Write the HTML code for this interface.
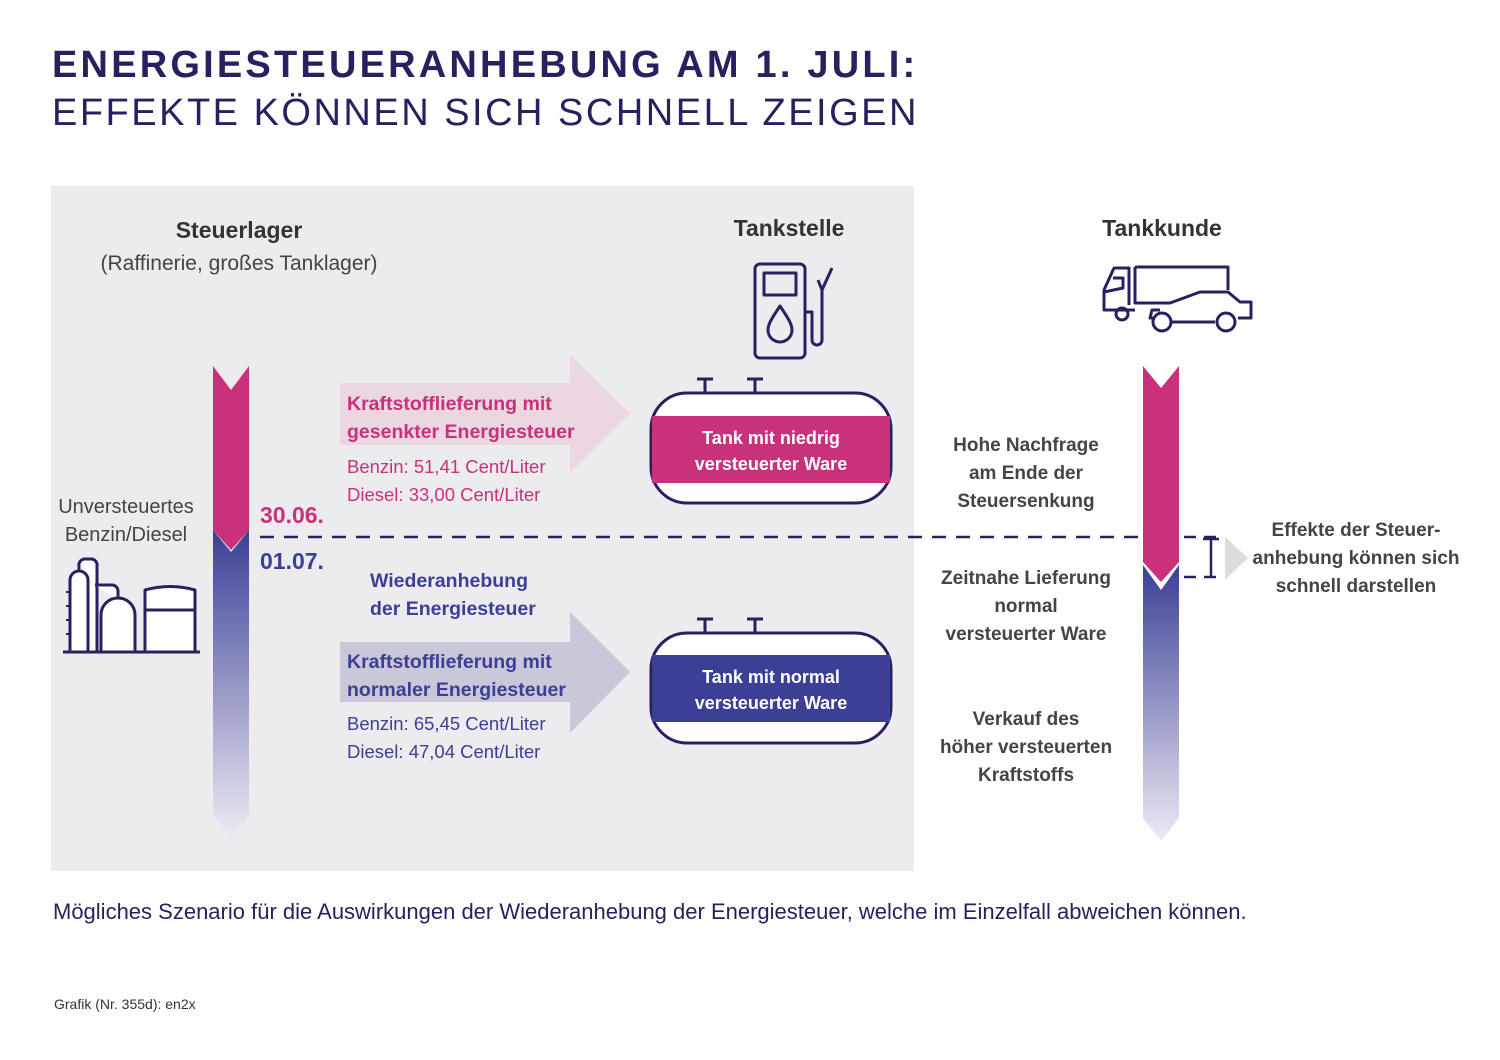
<!DOCTYPE html>
<html><head><meta charset="utf-8"><style>
body{margin:0;width:1500px;height:1060px;background:#fff;font-family:"Liberation Sans",sans-serif;position:relative;overflow:hidden}
.t{position:absolute;white-space:nowrap}
.c{text-align:center;transform:translateX(-50%)}
.b{font-weight:bold}
</style></head><body>
<div class="t b" style="left:52px;top:44px;font-size:38px;letter-spacing:3.2px;color:#2a2060">ENERGIESTEUERANHEBUNG AM 1. JULI:</div>
<div class="t" style="left:52px;top:92px;font-size:38px;letter-spacing:2.5px;color:#2a2060">EFFEKTE KÖNNEN SICH SCHNELL ZEIGEN</div>
<div style="position:absolute;left:51px;top:186px;width:863px;height:685px;background:#ececef"></div>
<svg width="1500" height="1060" style="position:absolute;left:0;top:0">
<defs>
<linearGradient id="gb" x1="0" y1="0" x2="0" y2="1"><stop offset="0" stop-color="#3b3f96"/><stop offset="1" stop-color="#ecebf3"/></linearGradient>
</defs>
<polygon points="213,366 231,390 249,366 249,530 231,550 213,530" fill="#c9317a"/>
<polygon points="213,530 231,552 249,530 249,815 231,838 213,815" fill="url(#gb)"/>
<polygon points="1143,366 1161,388 1179,366 1179,562 1161,582 1143,562" fill="#c9317a"/>
<polygon points="1143,565 1161,590 1179,565 1179,818 1161,841 1143,818" fill="url(#gb)"/>
<line x1="260" y1="537" x2="1140" y2="537" stroke="#2a2060" stroke-width="2.5" stroke-dasharray="14,10"/>
<line x1="1184" y1="537" x2="1220" y2="537" stroke="#2a2060" stroke-width="2.5" stroke-dasharray="12,8"/>
<line x1="1184" y1="577" x2="1220" y2="577" stroke="#2a2060" stroke-width="2.5" stroke-dasharray="12,8"/>
<line x1="1211" y1="539" x2="1211" y2="577" stroke="#2a2060" stroke-width="2.5"/>
<line x1="1203" y1="539" x2="1219" y2="539" stroke="#2a2060" stroke-width="2.5"/>
<polygon points="1225,537 1248,558 1225,580" fill="#dcdcdc"/>
<polygon points="340,383 570,383 570,355 630,413 570,473 570,445 340,445" fill="#ead7e2"/>
<polygon points="340,642 570,642 570,612 630,672 570,733 570,702 340,702" fill="#c9c8d8"/>
<g stroke="#2a2060" stroke-width="3" fill="none">
<path d="M705,393 V379 M697,379 H713 M755,393 V379 M747,379 H763"/>
<path d="M705,633 V619 M697,619 H713 M755,633 V619 M747,619 H763"/>
</g>
<rect x="651" y="393" width="240" height="110" rx="36" fill="#fff" stroke="#2a2060" stroke-width="3"/>
<rect x="652" y="416" width="238" height="67" fill="#c9317a"/>
<rect x="651" y="633" width="240" height="110" rx="36" fill="#fff" stroke="#2a2060" stroke-width="3"/>
<rect x="652" y="655" width="238" height="67" fill="#3b3f96"/>
<g stroke="#2a2060" stroke-width="3" fill="none" stroke-linejoin="round">
<rect x="755" y="264" width="50" height="94" rx="5"/>
<rect x="764" y="273" width="32" height="22"/>
<path d="M780,306 C772,318 768,324 768,330 A12,12 0 0 0 792,330 C792,324 788,318 780,306Z"/>
<path d="M805,312 H812 V340 A5,5 0 0 0 822,340 V290 L832,268"/>
<path d="M818,280 L822,290"/>
</g>
<g stroke="#2a2060" stroke-width="3" fill="none" stroke-linejoin="round">
<path d="M1135,310 H1104 V290 L1114,268 H1129 V305"/>
<path d="M1104,292 L1123,288 V278 H1113"/>
<path d="M1135,267 H1228 V290"/>
<path d="M1135,267 V303 H1170 L1200,292 H1228 L1240,302 H1251 V318 H1238"/>
<path d="M1155,318 H1150 L1152,310 H1160"/>
<path d="M1172,322 H1215"/>
<circle cx="1122" cy="314" r="6"/>
<circle cx="1162" cy="322" r="9"/>
<circle cx="1226" cy="322" r="9"/>
</g>
<g stroke="#2a2060" stroke-width="3" fill="#fff" stroke-linejoin="round">
<path d="M79,652 V566 A6,6 0 0 1 85,559 H91 A6,6 0 0 1 97,566 V652"/>
<path d="M95,585 H112 A6,6 0 0 1 118,591 V600"/>
<path d="M70,652 V580 A9,9 0 0 1 88,580 V652"/>
<path d="M101,652 V615 A16,16 0 0 1 135,615 V652"/>
<path d="M145,652 V590 Q170,583 195,590 V652"/>
<path d="M145,610 H195"/>
<path d="M63,652 H200"/>
<path d="M66,592 H70 M66,606 H70 M66,620 H70 M66,634 H70" stroke-width="2"/>
</g>
</svg>
<div class="t c b" style="left:239px;top:217px;font-size:23px;color:#333">Steuerlager</div>
<div class="t c" style="left:239px;top:252px;font-size:21px;color:#444">(Raffinerie, großes Tanklager)</div>
<div class="t c b" style="left:789px;top:215px;font-size:23px;color:#333">Tankstelle</div>
<div class="t c b" style="left:1162px;top:215px;font-size:23px;color:#333">Tankkunde</div>
<div class="t c" style="left:126px;top:493px;font-size:20px;line-height:28px;color:#444">Unversteuertes<br>Benzin/Diesel</div>
<div class="t b" style="left:260px;top:502px;font-size:23px;color:#c9317a">30.06.</div>
<div class="t b" style="left:260px;top:548px;font-size:23px;color:#3b3f96">01.07.</div>
<div class="t b" style="left:347px;top:390px;font-size:19.5px;line-height:28px;color:#c9317a">Kraftstofflieferung mit<br>gesenkter Energiesteuer</div>
<div class="t" style="left:347px;top:453px;font-size:18.5px;line-height:28px;color:#c9317a">Benzin: 51,41 Cent/Liter<br>Diesel: 33,00 Cent/Liter</div>
<div class="t b" style="left:370px;top:567px;font-size:19.5px;line-height:28px;color:#3b3f96">Wiederanhebung<br>der Energiesteuer</div>
<div class="t b" style="left:347px;top:648px;font-size:19.5px;line-height:28px;color:#3b3f96">Kraftstofflieferung mit<br>normaler Energiesteuer</div>
<div class="t" style="left:347px;top:710px;font-size:18.5px;line-height:28px;color:#3b3f96">Benzin: 65,45 Cent/Liter<br>Diesel: 47,04 Cent/Liter</div>
<div class="t c b" style="left:771px;top:425px;font-size:18px;line-height:26px;color:#fff">Tank mit niedrig<br>versteuerter Ware</div>
<div class="t c b" style="left:771px;top:664px;font-size:18px;line-height:26px;color:#fff">Tank mit normal<br>versteuerter Ware</div>
<div class="t c b" style="left:1026px;top:432px;font-size:19px;line-height:28px;color:#444">Hohe Nachfrage<br>am Ende der<br>Steuersenkung</div>
<div class="t c b" style="left:1026px;top:565px;font-size:19px;line-height:28px;color:#444">Zeitnahe Lieferung<br>normal<br>versteuerter Ware</div>
<div class="t c b" style="left:1026px;top:706px;font-size:19px;line-height:28px;color:#444">Verkauf des<br>höher versteuerten<br>Kraftstoffs</div>
<div class="t c b" style="left:1356px;top:517px;font-size:19px;line-height:28px;color:#444">Effekte der Steuer-<br>anhebung können sich<br>schnell darstellen</div>
<div class="t" style="left:53px;top:899px;font-size:22px;color:#2a2060">Mögliches Szenario für die Auswirkungen der Wiederanhebung der Energiesteuer, welche im Einzelfall abweichen können.</div>
<div class="t" style="left:54px;top:996px;font-size:14px;color:#333">Grafik (Nr. 355d): en2x</div>
</body></html>
